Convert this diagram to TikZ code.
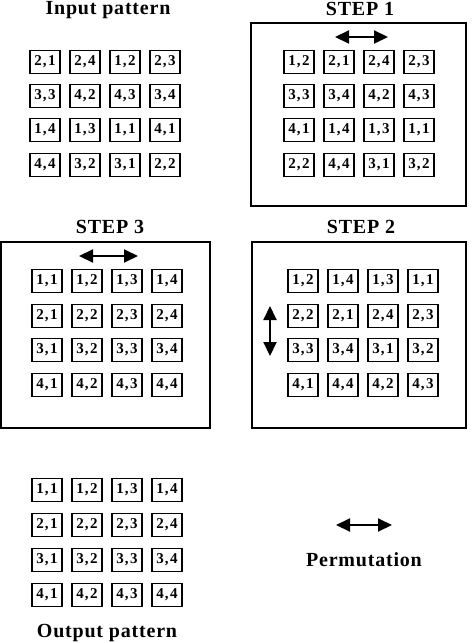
\documentclass[tikz,border=0pt]{standalone}
\usepackage{fontspec}
\setmainfont{Liberation Serif}
\usetikzlibrary{arrows.meta}
\tikzset{
  cell/.style={draw, line width=1.5pt, minimum width=30pt, minimum height=23pt, inner sep=0pt, font=\fontsize{15}{15}\selectfont\bfseries},
  frame/.style={draw, line width=1.3pt},
  ttl/.style={font=\fontsize{20}{20}\selectfont\bfseries\addfontfeature{LetterSpace=4}, inner sep=0pt, anchor=base},
  perm/.style={line width=2pt, {Triangle[length=14pt,width=13pt]}-{Triangle[length=14pt,width=13pt]}}
}
\newcommand\pr[2]{#1\kern1pt,\kern1.5pt#2}
% prefix, y, x0, four labels
\newcommand\grow[7]{%
  \node[cell] (#1-1) at (#3,#2) {#4};
  \node[cell] (#1-2) at (#3+40,#2) {#5};
  \node[cell] (#1-3) at (#3+80,#2) {#6};
  \node[cell] (#1-4) at (#3+120,#2) {#7};
}
\begin{document}
\begin{tikzpicture}[x=1pt,y=-1pt]
\useasboundingbox (0,0) rectangle (474,643);

% Input pattern
\node[ttl] (tin) at (108,14.5) {Input pattern};
\grow{in1}{62}{45}{\pr21}{\pr24}{\pr12}{\pr23}
\grow{in2}{96}{45}{\pr33}{\pr42}{\pr43}{\pr34}
\grow{in3}{130}{45}{\pr14}{\pr13}{\pr11}{\pr41}
\grow{in4}{165}{45}{\pr44}{\pr32}{\pr31}{\pr22}

% STEP 1
\node[ttl] (ts1) at (360,15.5) {STEP 1};
\draw[frame] (251,23) rectangle (466,206);
\coordinate (a1l) at (335,37);
\coordinate (a1r) at (388,37);
\draw[perm] (a1l) -- (a1r);
\grow{s1r1}{62}{299}{\pr12}{\pr21}{\pr24}{\pr23}
\grow{s1r2}{96}{299}{\pr33}{\pr34}{\pr42}{\pr43}
\grow{s1r3}{130}{299}{\pr41}{\pr14}{\pr13}{\pr11}
\grow{s1r4}{165}{299}{\pr22}{\pr44}{\pr31}{\pr32}

% STEP 3
\node[ttl] (ts3) at (110,233) {STEP 3};
\draw[frame] (1,242) rectangle (210,428);
\coordinate (a3l) at (79,256);
\coordinate (a3r) at (138,256);
\draw[perm] (a3l) -- (a3r);
\grow{s3r1}{281}{47}{\pr11}{\pr12}{\pr13}{\pr14}
\grow{s3r2}{316}{47}{\pr21}{\pr22}{\pr23}{\pr24}
\grow{s3r3}{350}{47}{\pr31}{\pr32}{\pr33}{\pr34}
\grow{s3r4}{385}{47}{\pr41}{\pr42}{\pr43}{\pr44}

% STEP 2
\node[ttl] (ts2) at (361,233) {STEP 2};
\draw[frame] (252,242) rectangle (466,428);
\coordinate (a2t) at (270,306);
\coordinate (a2b) at (270,356);
\draw[perm] (a2t) -- (a2b);
\grow{s2r1}{281}{303}{\pr12}{\pr14}{\pr13}{\pr11}
\grow{s2r2}{316}{303}{\pr22}{\pr21}{\pr24}{\pr23}
\grow{s2r3}{350}{303}{\pr33}{\pr34}{\pr31}{\pr32}
\grow{s2r4}{385}{303}{\pr41}{\pr44}{\pr42}{\pr43}

% Output pattern
\grow{out1}{490}{47}{\pr11}{\pr12}{\pr13}{\pr14}
\grow{out2}{525}{47}{\pr21}{\pr22}{\pr23}{\pr24}
\grow{out3}{560}{47}{\pr31}{\pr32}{\pr33}{\pr34}
\grow{out4}{595}{47}{\pr41}{\pr42}{\pr43}{\pr44}
\node[ttl] (tout) at (107,637) {Output pattern};

% Legend
\coordinate (lgl) at (336,525);
\coordinate (lgr) at (392,525);
\draw[perm] (lgl) -- (lgr);
\node[ttl] (tperm) at (364,566) {Permutation};
\end{tikzpicture}
\end{document}
